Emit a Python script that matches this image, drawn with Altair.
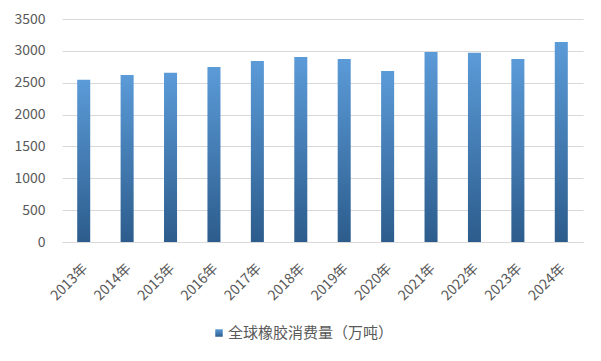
import altair as alt
import pandas as pd

years = ["2013年", "2014年", "2015年", "2016年", "2017年", "2018年",
         "2019年", "2020年", "2021年", "2022年", "2023年", "2024年"]
values = [2545, 2620, 2658, 2748, 2840, 2905, 2872, 2685, 2982, 2970, 2872, 3140]
series_name = "全球橡胶消费量（万吨）"
y_ticks = [0, 500, 1000, 1500, 2000, 2500, 3000, 3500]

df = pd.DataFrame({"year": years, "value": values})

FONT = "Noto Sans CJK SC"
grad = alt.Gradient(
    gradient="linear",
    stops=[alt.GradientStop(color="#2C5C8C", offset=0),
           alt.GradientStop(color="#5B9BD8", offset=1)],
    x1=0, x2=0, y1=1, y2=0,
)

bars = alt.Chart(df).mark_bar(color=grad).encode(
    x=alt.X("year:N", sort=None,
            scale=alt.Scale(paddingInner=0.7, paddingOuter=0.35),
            axis=alt.Axis(title=None, labelAngle=-45, ticks=False,
                          domainColor="#d9d9d9", labelColor="#595959",
                          labelFontSize=14, labelFont=FONT, labelPadding=19,
                          labelOffset=-3, grid=False)),
    y=alt.Y("value:Q",
            scale=alt.Scale(domain=[0, 3500], nice=False),
            axis=alt.Axis(title=None, values=y_ticks, ticks=False, domain=False,
                          format="d",
                          gridColor="#d9d9d9", labelColor="#595959",
                          labelFontSize=14, labelFont=FONT, labelPadding=17)),
)

leg_df = pd.DataFrame({"label": [series_name]})
leg_sq = alt.Chart(leg_df).mark_square(size=56, color=grad, opacity=1).encode(
    x=alt.value(157), y=alt.value(314))
leg_tx = alt.Chart(leg_df).mark_text(align="left", baseline="middle",
                                     fontSize=15, font=FONT, color="#595959").encode(
    x=alt.value(166), y=alt.value(314), text="label:N")

chart = alt.layer(bars, leg_sq, leg_tx).properties(
    width=521, height=223,
    autosize=alt.AutoSizeParams(type="none"),
    padding={"left": 54, "top": 11, "right": 10, "bottom": 100},
).configure_view(stroke=None)

chart.save("out.html", embed_options={"renderer": "svg", "actions": False})
